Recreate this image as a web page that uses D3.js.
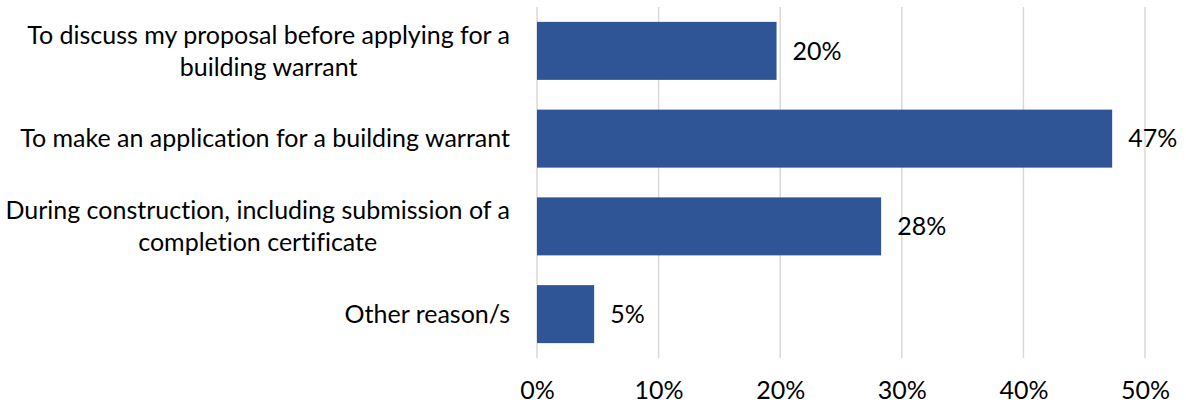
<!DOCTYPE html>
<html><head><meta charset="utf-8">
<script src="https://cdn.jsdelivr.net/npm/d3@7"></script>
<style>
html,body{margin:0;padding:0;background:#fff;}
svg{display:block;font-family:Lato,"Noto Sans",sans-serif;font-variant-ligatures:none;font-feature-settings:"liga" 0;}
</style></head>
<body>
<svg id="chart" width="1186" height="410"></svg>
<script>
const categories = [
  "To discuss my proposal before applying for a\nbuilding warrant",
  "To make an application for a building warrant",
  "During construction, including submission of a\ncompletion certificate",
  "Other reason/s"
];
const values = [0.197, 0.473, 0.283, 0.047];
const valueLabels = ["20%", "47%", "28%", "5%"];
const ticks = [0, 0.1, 0.2, 0.3, 0.4, 0.5];

const svg = d3.select("#chart");
const fontSize = 25;
const x = d3.scaleLinear().domain([0, 0.5]).range([537, 1145]);
const y = d3.scaleBand().domain(categories).range([7, 358]).paddingInner(0.339).paddingOuter(0.1695);

// gridlines
svg.append("g").selectAll("line").data(ticks).join("line")
  .attr("x1", d => x(d)).attr("x2", d => x(d))
  .attr("y1", 7).attr("y2", 358)
  .attr("stroke", "#d9d9d9").attr("stroke-width", 1.5);

// bars
svg.append("g").selectAll("rect").data(categories).join("rect")
  .attr("x", x(0)).attr("y", d => y(d))
  .attr("width", (d, i) => x(values[i]) - x(0))
  .attr("height", y.bandwidth())
  .attr("fill", "#2f5597");

// value labels
svg.append("g").selectAll("text").data(categories).join("text")
  .attr("x", (d, i) => x(values[i]) + 16)
  .attr("y", d => y(d) + y.bandwidth() / 2)
  .attr("dy", "0.35em")
  .attr("font-size", fontSize).attr("fill", "#000")
  .text((d, i) => valueLabels[i]);

// x axis tick labels
const xAxis = d3.axisBottom(x).tickValues(ticks).tickFormat(d3.format(".0%")).tickSize(0).tickPadding(0);
const gx = svg.append("g").attr("transform", "translate(0,381)").call(xAxis);
gx.select(".domain").remove();
gx.selectAll("text").attr("font-size", fontSize).attr("font-family", "Lato,'Noto Sans',sans-serif").attr("fill", "#000").attr("dy", "0.71em");

// category labels (wrapped, centred block, right aligned)
const lineH = 32;
const labelRight = 510;
categories.forEach(c => {
  const lines = c.split("\n");
  const g = svg.append("g");
  const cy = y(c) + y.bandwidth() / 2;
  const texts = lines.map((ln, j) => g.append("text")
    .attr("font-size", fontSize).attr("fill", "#000")
    .attr("text-anchor", "middle")
    .attr("y", cy + (j - (lines.length - 1) / 2) * lineH)
    .attr("dy", "0.35em")
    .text(ln));
  const w = d3.max(texts, t => t.node().getComputedTextLength());
  texts.forEach(t => t.attr("x", labelRight - w / 2));
});
</script>
</body></html>
